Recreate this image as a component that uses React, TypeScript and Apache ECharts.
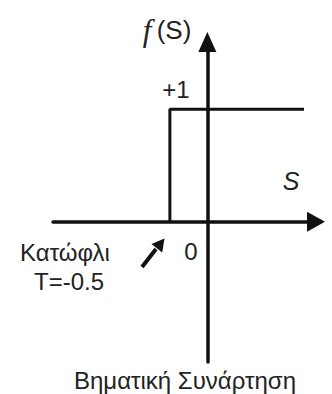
import React, { useEffect, useRef } from "react";
import * as echarts from "echarts";

// Step function data (S, f(S)), threshold T = -0.5
const stepS = [-0.5, -0.5, 1.29];
const stepF = [0, 1, 1];

// Axis extents
const xRange = [-2.06, 1.45];
const yRange = [-1.25, 1.6];

// Texts
const yTitle = ["f", "(S)"];
const xTitle = "S";
const tickOne = "+1";
const tickZero = "0";
const thresholdLabel = ["Κατώφλι", "T=-0.5"];
const caption = "Βηματική Συνάρτηση";

const INK = "#111";
const TXT = "#222";
const SANS = "'Liberation Sans', Arial, sans-serif";

export default function App() {
  const ref = useRef<HTMLDivElement>(null);
  useEffect(() => {
    if (!ref.current) return;
    const chart = echarts.init(ref.current, null, { renderer: "svg" });
    const data = stepS.map((s, i) => [s, stepF[i]]);
    const txt = (text: string, x: number, y: number, font: string) => ({
      type: "text",
      x,
      y,
      style: { text, font, fill: TXT, align: "center", verticalAlign: "middle" },
    });
    chart.setOption({
      animation: false,
      backgroundColor: "#fff",
      grid: { left: 53, right: 16, top: 42, bottom: 32 },
      xAxis: {
        type: "value",
        min: xRange[0],
        max: xRange[1],
        axisLine: {
          onZero: true,
          symbol: ["none", "triangle"],
          symbolSize: [20, 18],
          lineStyle: { color: INK, width: 3.5 },
        },
        axisTick: { show: false },
        axisLabel: { show: false },
        splitLine: { show: false },
      },
      yAxis: {
        type: "value",
        min: yRange[0],
        max: yRange[1],
        axisLine: {
          onZero: true,
          symbol: ["none", "triangle"],
          symbolSize: [18, 20],
          lineStyle: { color: INK, width: 3.5 },
        },
        axisTick: { show: false },
        axisLabel: { show: false },
        splitLine: { show: false },
      },
      series: [
        {
          type: "line",
          data,
          symbol: "none",
          lineStyle: { color: INK, width: 3 },
          z: 1,
        },
      ],
      graphic: [
        txt(yTitle[0], 147, 30, "italic 31px 'Liberation Serif', serif"),
        txt(yTitle[1], 174, 30, `26px ${SANS}`),
        txt(tickOne, 176, 89, `24px ${SANS}`),
        txt(xTitle, 291, 181, `italic 25px ${SANS}`),
        txt(tickZero, 191, 251, `24px ${SANS}`),
        txt(thresholdLabel[0], 65, 252, `24px ${SANS}`),
        txt(thresholdLabel[1], 69, 281, `24px ${SANS}`),
        txt(caption, 185, 380, `24px ${SANS}`),
        {
          type: "line",
          shape: { x1: 142, y1: 267, x2: 156, y2: 249 },
          style: { stroke: INK, lineWidth: 4 },
        },
        {
          type: "polygon",
          shape: {
            points: [
              [164.5, 238.5],
              [162.2, 252.5],
              [151.5, 244],
            ],
          },
          style: { fill: INK },
        },
      ],
    });
    return () => chart.dispose();
  }, []);
  return (
    <div
      ref={ref}
      style={{ position: "fixed", left: 0, top: 0, width: 332, height: 394 }}
    />
  );
}
